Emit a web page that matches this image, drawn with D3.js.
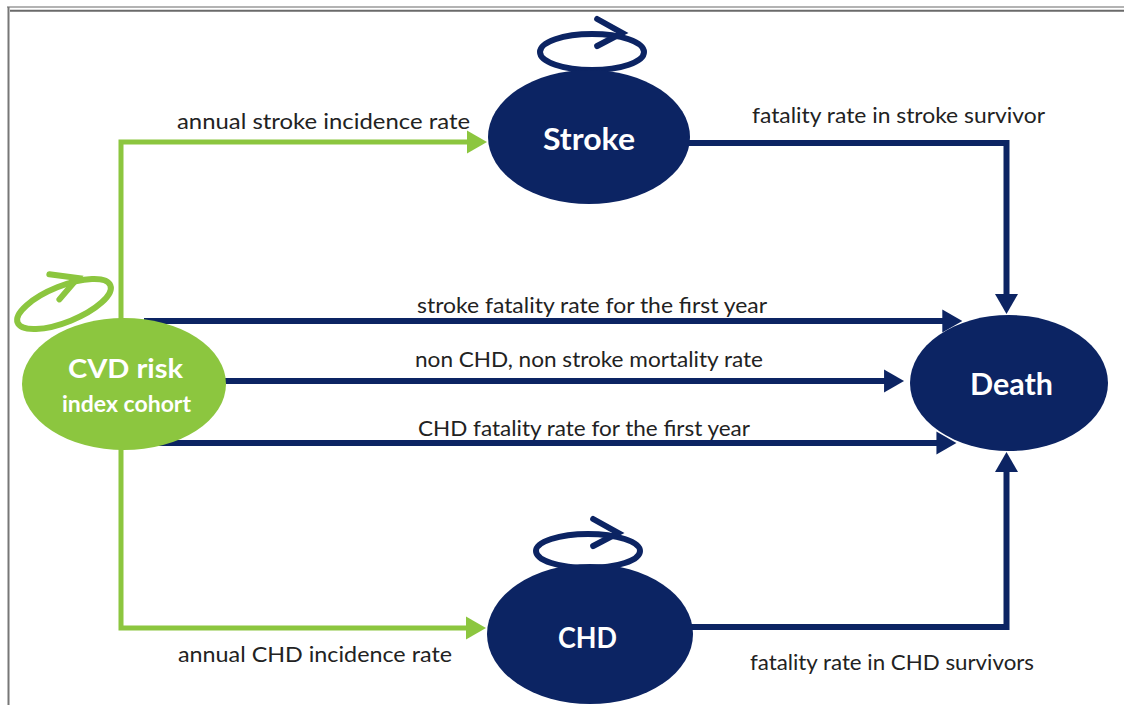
<!DOCTYPE html>
<html><head><meta charset="utf-8">
<script src="https://cdn.jsdelivr.net/npm/d3@7"></script>
<style>body{margin:0;background:#fff;overflow:hidden}</style>
</head><body>
<svg id="c" width="1124" height="705"></svg>
<script>
// ---- data ----
const states = ["CVD", "Stroke", "CHD", "Death"];
const stateLabels = [["CVD risk", "index cohort"], ["Stroke"], ["CHD"], ["Death"]];
const selfLoopStates = ["CVD", "Stroke", "CHD"];
const transitionFrom = ["CVD", "CVD", "CVD", "CVD", "CVD", "Stroke", "CHD"];
const transitionTo = ["Stroke", "CHD", "Death", "Death", "Death", "Death", "Death"];
const transitionLabels = [
  "annual stroke incidence rate",
  "annual CHD incidence rate",
  "stroke fatality rate for the first year",
  "non CHD, non stroke mortality rate",
  "CHD fatality rate for the first year",
  "fatality rate in stroke survivor",
  "fatality rate in CHD survivors"
];

// ---- layout ----
const GREEN = "#8cc63f", NAVY = "#0c2463";
const svg = d3.select("#c");
const FONT = "Lato, 'Open Sans', sans-serif";

const nx = d3.scaleOrdinal().domain(states).range([124, 589, 590, 1009]);
const ny = d3.scaleOrdinal().domain(states).range([384, 137, 634, 383]);
const nrx = d3.scaleOrdinal().domain(states).range([102, 101, 103, 99]);
const nry = d3.scaleOrdinal().domain(states).range([66, 67, 70, 68]);
const ncol = d3.scaleOrdinal().domain(states).range([GREEN, NAVY, NAVY, NAVY]);

// frame
svg.append("line").attr("x1", 7).attr("x2", 1124).attr("y1", 7).attr("y2", 7)
  .attr("stroke", "#9a9a9a").attr("stroke-width", 1.6);
svg.append("line").attr("x1", 10).attr("x2", 1124).attr("y1", 10.8).attr("y2", 10.8)
  .attr("stroke", "#6a6a6a").attr("stroke-width", 2);
svg.append("line").attr("x1", 8.5).attr("x2", 8.5).attr("y1", 7).attr("y2", 705)
  .attr("stroke", "#777").attr("stroke-width", 2);

// edge routes derived from node geometry
const laneX = nx("CVD") - 3;
const sideX = nx("Death") - 3;
function route(i) {
  const f = transitionFrom[i], t = transitionTo[i];
  if (t === "Stroke" || t === "CHD") {
    const y = ny(t) + (t === "Stroke" ? 5 : -6);
    return [[laneX, ny(f)], [laneX, y], [nx(t) - nrx(t) - 1, y]];
  }
  if (f === "Stroke") {
    const y = ny(f) + 6;
    return [[nx(f) + 40, y], [sideX + 0.5, y], [sideX + 0.5, ny(t) - nry(t) - 1]];
  }
  if (f === "CHD") {
    const y = ny(f) - 7;
    return [[nx(f) + 40, y], [sideX + 0.5, y], [sideX + 0.5, ny(t) + nry(t) + 1]];
  }
  const dy = [-62, -2, 60][i - 2];
  const y = ny(t) + dy;
  const e = nrx(t) * Math.sqrt(Math.max(0, 1 - (dy / nry(t)) ** 2));
  return [[nx(f) + 20, y], [nx(t) - e - 6, y]];
}

const edgeG = svg.append("g");
transitionFrom.forEach((f, i) => {
  const pts = route(i);
  const col = f === "CVD" && (transitionTo[i] !== "Death") ? GREEN : NAVY;
  const sw = col === GREEN ? 5 : 6;
  const n = pts.length;
  const [ax, ay] = pts[n - 1], [bx, by] = pts[n - 2];
  const L = Math.hypot(ax - bx, ay - by), ux = (ax - bx) / L, uy = (ay - by) / L;
  const len = 20, hw = 11.5;
  const shaft = pts.slice(0, n - 1).concat([[ax - ux * (len - 2), ay - uy * (len - 2)]]);
  edgeG.append("path").attr("d", d3.line()(shaft)).attr("fill", "none")
    .attr("stroke", col).attr("stroke-width", sw).attr("stroke-linejoin", "miter");
  const baseX = ax - ux * len, baseY = ay - uy * len;
  edgeG.append("path").attr("d", d3.line()([[ax, ay], [baseX - uy * hw, baseY + ux * hw], [baseX + uy * hw, baseY - ux * hw]]) + "Z")
    .attr("fill", col);
});

// self loops
const loopGeo = {
  CVD: { cx: 64, cy: 304, rx: 50, ry: 18, rot: -22, ax: 0.45 },
  Stroke: { cx: 592, cy: 52, rx: 52, ry: 18, rot: 0, ax: 0.58 },
  CHD: { cx: 588, cy: 551, rx: 52, ry: 17, rot: 0, ax: 0.58 }
};
selfLoopStates.forEach(s => {
  const g = loopGeo[s];
  const col = ncol(s);
  const lg = svg.append("g").attr("transform", `translate(${g.cx},${g.cy}) rotate(${g.rot})`);
  lg.append("ellipse").attr("rx", g.rx).attr("ry", g.ry).attr("fill", "none")
    .attr("stroke", col).attr("stroke-width", 6);
  const px = g.rx * g.ax, py = -g.ry - 1;
  lg.append("path").attr("d", d3.line()([[px - 25, py - 14], [px, py], [px - 25, py + 13]]))
    .attr("fill", "none").attr("stroke", col).attr("stroke-width", 6)
    .attr("stroke-linecap", "round").attr("stroke-linejoin", "miter");
});

// nodes
svg.append("g").selectAll("ellipse").data(states).join("ellipse")
  .attr("cx", d => nx(d)).attr("cy", d => ny(d))
  .attr("rx", d => nrx(d)).attr("ry", d => nry(d))
  .attr("fill", d => ncol(d));

// node labels: [center x, baseline, width, size]
const nodeLabelPos = {
  CVD: [[125.5, 378, 115, 27], [126.5, 412, 129, 22]],
  Stroke: [[589, 150, 92, 30]],
  CHD: [[587.5, 648, 59, 28]],
  Death: [[1011.5, 395, 83, 30]]
};
states.forEach((s, i) => {
  stateLabels[i].forEach((lab, j) => {
    const [x, y, w, fs] = nodeLabelPos[s][j];
    svg.append("text").attr("x", x).attr("y", y).attr("text-anchor", "middle")
      .attr("font-family", FONT).attr("font-weight", 700).attr("font-size", fs)
      .attr("textLength", w).attr("lengthAdjust", "spacingAndGlyphs")
      .attr("fill", "#fff").text(lab);
  });
});

// transition labels: [left x, baseline, width]
const labelPos = [
  [177, 129, 293], [178, 662, 274], [417, 313, 350], [415, 367, 348],
  [418, 436, 332], [752, 123, 293], [750, 670, 284]
];
transitionLabels.forEach((lab, i) => {
  const [x, y, w] = labelPos[i];
  svg.append("text").attr("x", x).attr("y", y)
    .attr("font-family", FONT).attr("font-size", 21).attr("fill", "#222")
    .attr("textLength", w).attr("lengthAdjust", "spacingAndGlyphs").text(lab);
});
</script>
</body></html>
